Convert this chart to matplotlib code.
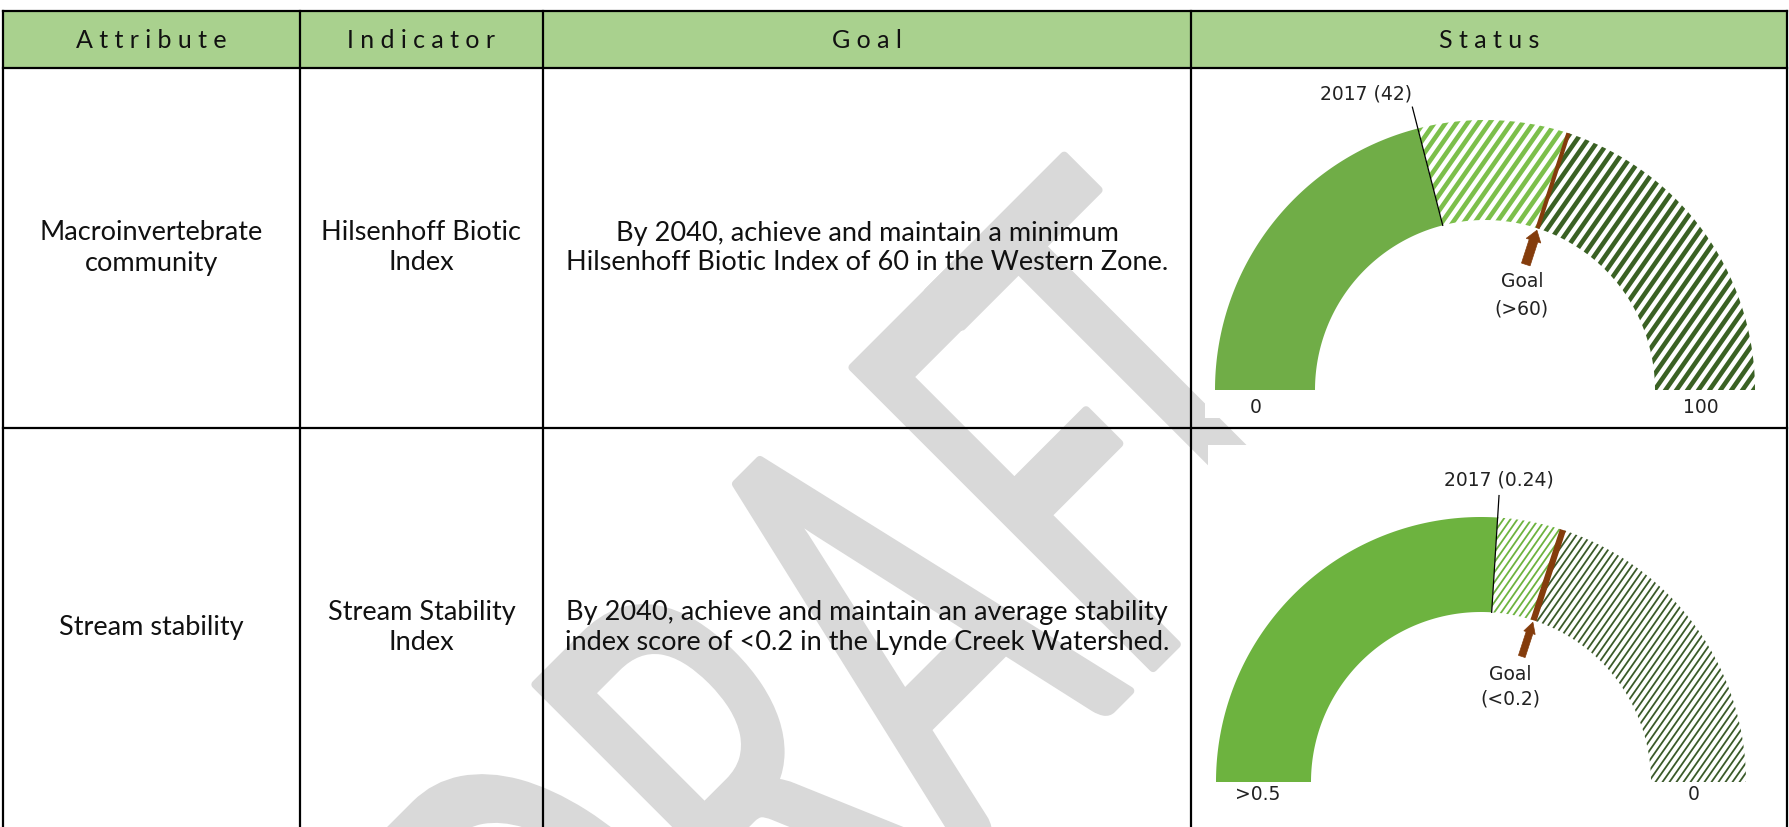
import numpy as np
import matplotlib
matplotlib.use("Agg")
import matplotlib.pyplot as plt
from matplotlib.patches import Polygon, Rectangle, PathPatch, FancyArrow
from matplotlib.collections import LineCollection
from matplotlib.textpath import TextPath
from matplotlib.path import Path
from matplotlib.font_manager import FontProperties
from matplotlib.transforms import Affine2D

plt.rcParams['font.family'] = ['Lato', 'DejaVu Sans']

# table content
headers = ["Attribute", "Indicator", "Goal", "Status"]
attributes = ["Macroinvertebrate\ncommunity", "Stream stability"]
indicators = ["Hilsenhoff Biotic\nIndex", "Stream Stability\nIndex"]
goals = ["By 2040, achieve and maintain a minimum\nHilsenhoff Biotic Index of 60 in the Western Zone.",
         "By 2040, achieve and maintain an average stability\nindex score of <0.2 in the Lynde Creek Watershed."]
watermark = "DRAFT"

# gauge values (one per row)
scale_start = [0, 0.5]
scale_end = [100, 0]
start_labels = ["0", ">0.5"]
end_labels = ["100", "0"]
value_2017 = [42, 0.24]
value_2017_labels = ["2017 (42)", "2017 (0.24)"]
goal_values = [60, 0.2]
goal_labels = ["Goal\n(>60)", "Goal\n(<0.2)"]

# layout in image pixels (y down)
W, H = 1790, 827
col_x = [3, 300, 543, 1191, 1787]
row_y = [11, 68, 428, 845]
header_fill = "#a9d18e"
brown = "#843c0c"
wm_kern = [0, 0, 0, 0, -0.18]   # extra letter offsets (em) for the watermark

gauge_style = [
    dict(cx=1485, cy=390, r_out=270, r_in=170, solid="#70ad47", light="#7cbf4b", dark="#3a6124",
         gap=11, stripe_lw=3.3, goal_lw=3.0, arrow_w=9, lab_ha="right", lab_dy=4,
         goal_dx=6, goal_ls=1.55, start_dx=-9, end_dx=-4, end_dy=8,
         bg=(1205, 72, 580, 346)),
    dict(cx=1481, cy=782, r_out=265, r_in=170, solid="#6db33f", light="#6db33f", dark="#3b5a2a",
         gap=7, stripe_lw=1.3, goal_lw=4.5, arrow_w=7, lab_ha="center", lab_dy=6,
         goal_dx=-2, goal_ls=1.35, start_dx=-6, end_dx=-5, end_dy=3,
         bg=(1208, 445, 577, 382)),
]


def to_angle(v, lo, hi):
    return np.pi * (1 - (v - lo) / (hi - lo))


def band(cx, cy, r_in, r_out, a0, a1, n=120):
    t = np.linspace(a0, a1, n)
    xo = cx + r_out * np.cos(t)
    yo = cy - r_out * np.sin(t)
    xi = cx + r_in * np.cos(t[::-1])
    yi = cy - r_in * np.sin(t[::-1])
    return np.column_stack([np.r_[xo, xi], np.r_[yo, yi]])


def striped(ax, g, a0, a1, color):
    patch = Polygon(band(g["cx"], g["cy"], g["r_in"], g["r_out"], a0, a1),
                    closed=True, fc="white", ec="none", zorder=4)
    ax.add_patch(patch)
    slope = np.tan(np.radians(55))
    top = g["r_out"] + 20
    segs = []
    for x0 in np.arange(g["cx"] - g["r_out"] - top, g["cx"] + g["r_out"] + 5, g["gap"]):
        segs.append([(x0, g["cy"] + 5), (x0 + (top + 5) / slope, g["cy"] - top)])
    lc = LineCollection(segs, colors=color, linewidths=g["stripe_lw"], zorder=5)
    ax.add_collection(lc)
    lc.set_clip_path(patch)


def gauge(ax, i):
    g = gauge_style[i]
    cx, cy, ro, ri = g["cx"], g["cy"], g["r_out"], g["r_in"]
    bx, by, bw, bh = g["bg"]
    ax.add_patch(Rectangle((bx, by), bw, bh, fc="white", ec="none", zorder=3))
    lab = dict(fontsize=13.5, family="DejaVu Sans", color="#222222", zorder=7)

    a_now = to_angle(value_2017[i], scale_start[i], scale_end[i])
    a_goal = to_angle(goal_values[i], scale_start[i], scale_end[i])

    ax.add_patch(Polygon(band(cx, cy, ri, ro, np.pi, a_now), closed=True,
                         fc=g["solid"], ec="none", zorder=4))
    striped(ax, g, a_now, a_goal, g["light"])
    striped(ax, g, a_goal, 0, g["dark"])

    # 2017 marker
    r_top = ro + 22
    ax.plot([cx + ri * np.cos(a_now), cx + r_top * np.cos(a_now)],
            [cy - ri * np.sin(a_now), cy - r_top * np.sin(a_now)],
            color="black", lw=0.9, zorder=6)
    ax.text(cx + r_top * np.cos(a_now), cy - r_top * np.sin(a_now) - g["lab_dy"],
            value_2017_labels[i], ha=g["lab_ha"], va="bottom", **lab)

    # goal marker
    ax.plot([cx + ri * np.cos(a_goal), cx + ro * np.cos(a_goal)],
            [cy - ri * np.sin(a_goal), cy - ro * np.sin(a_goal)],
            color=brown, lw=g["goal_lw"], solid_capstyle="butt", zorder=6)
    r_tail = ri - 38
    x0, y0 = cx + r_tail * np.cos(a_goal), cy - r_tail * np.sin(a_goal)
    x1, y1 = cx + (ri - 2) * np.cos(a_goal), cy - (ri - 2) * np.sin(a_goal)
    ax.add_patch(FancyArrow(x0, y0, x1 - x0, y1 - y0, width=g["arrow_w"],
                            head_width=g["arrow_w"] * 1.7, head_length=11,
                            length_includes_head=True, fc=brown, ec=brown, lw=0.5, zorder=6))
    r_txt = ri - 70
    ax.text(cx + r_txt * np.cos(a_goal) + g["goal_dx"], cy - r_txt * np.sin(a_goal),
            goal_labels[i], ha="center", va="center", linespacing=g["goal_ls"], **lab)

    # scale end labels
    mid = (ro + ri) / 2
    ax.text(cx - mid + g["start_dx"], cy + g["end_dy"], start_labels[i], ha="center", va="top", **lab)
    ax.text(cx + mid + g["end_dx"], cy + g["end_dy"], end_labels[i], ha="center", va="top", **lab)


def watermark_path(word, prop, kern):
    # glyph by glyph so the letter spacing can be tightened
    parts, lefts = [], []
    shift = 0.0
    for k, ch in enumerate(word):
        shift += kern[k]
        right = TextPath((0, 0), word[:k + 1], size=1, prop=prop).get_extents().x1
        own = TextPath((0, 0), ch, size=1, prop=prop).get_extents().x1
        left = right - own + shift
        lefts.append(left)
        parts.append(TextPath((left, 0), ch, size=1, prop=prop))
    return Path.make_compound_path(*parts), lefts


fig = plt.figure(figsize=(W / 100, H / 100), dpi=100)
ax = fig.add_axes([0, 0, 1, 1])
ax.set_xlim(0, W)
ax.set_ylim(H, 0)
ax.axis("off")

# watermark, anchored on the apex of its "A"
fp = FontProperties(family="Lato", weight="normal")
wm, lefts = watermark_path(watermark, fp, wm_kern)
ext_a = TextPath((0, 0), watermark[2], size=1, prop=fp).get_extents()
apex_x = lefts[2] + (ext_a.x0 + ext_a.x1) / 2
apex_y = ext_a.y1
s = 425 / (ext_a.y1 - ext_a.y0)
tr = (Affine2D().translate(-apex_x, -apex_y).scale(s * 0.58, -s)
      .rotate_deg(-45).translate(748, 472) + ax.transData)
ax.add_patch(PathPatch(wm, transform=tr, fc="#d9d9d9", ec="#d9d9d9", lw=6,
                       joinstyle="round", zorder=1))

# header
ax.add_patch(Rectangle((col_x[0], row_y[0]), col_x[-1] - col_x[0], row_y[1] - row_y[0],
                       fc=header_fill, ec="none", zorder=2))
for j, h in enumerate(headers):
    ax.text((col_x[j] + col_x[j + 1]) / 2, (row_y[0] + row_y[1]) / 2 + 1, " ".join(h),
            ha="center", va="center", fontsize=18, color="#111111", zorder=3)

# body
for i in range(2):
    yc = (row_y[i + 1] + min(row_y[i + 2], H)) / 2
    for j, txt in enumerate([attributes[i], indicators[i], goals[i]]):
        ax.text((col_x[j] + col_x[j + 1]) / 2, yc, txt, ha="center", va="center",
                fontsize=19.5, linespacing=1.25, color="#111111", zorder=3)
    gauge(ax, i)

# grid lines
for x in col_x:
    ax.plot([x, x], [row_y[0], row_y[-1]], color="black", lw=1.6, zorder=8)
for y in row_y[:-1]:
    ax.plot([col_x[0], col_x[-1]], [y, y], color="black", lw=1.6, zorder=8)

fig.savefig("out.png", dpi=100, facecolor="white")
